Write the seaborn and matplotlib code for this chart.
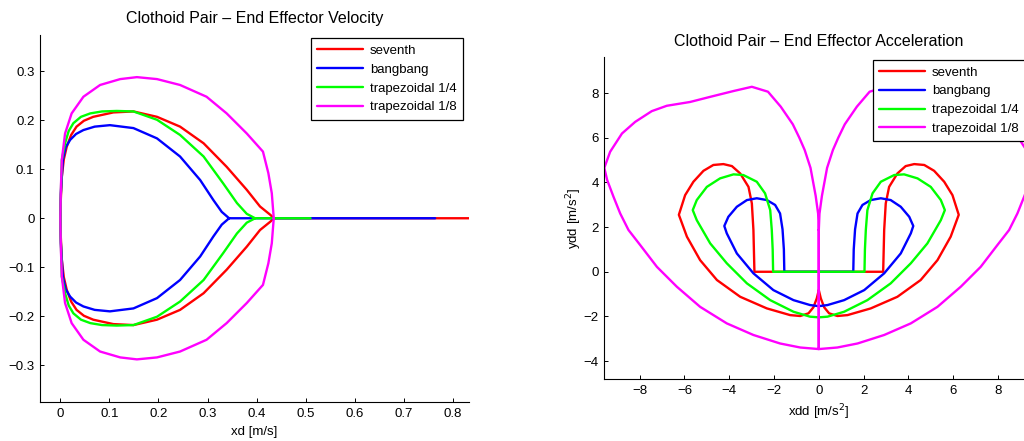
import numpy as np
import pandas as pd
import matplotlib
matplotlib.use("Agg")
import matplotlib.pyplot as plt
import seaborn as sns

# ---------------- data ----------------
series_names = ["seventh", "bangbang", "trapezoidal 1/4", "trapezoidal 1/8"]
series_colors = ["#ff0000", "#0000ff", "#00ff00", "#ff00ff"]

# velocity: upper half of each lobe, from origin to tip (lower half is the mirror image)
red_v_x = [0, 0.001, 0.003, 0.007, 0.013, 0.022, 0.033, 0.048, 0.067, 0.108, 0.149, 0.197, 0.244, 0.292, 0.339, 0.380, 0.407, 0.428, 0.435]
red_v_y = [0, 0.040, 0.085, 0.120, 0.146, 0.170, 0.187, 0.199, 0.207, 0.216, 0.218, 0.207, 0.187, 0.153, 0.105, 0.058, 0.024, 0.007, 0]
blue_v_x = [0, 0.001, 0.005, 0.011, 0.020, 0.032, 0.047, 0.070, 0.101, 0.149, 0.197, 0.244, 0.285, 0.312, 0.329, 0.344]
blue_v_y = [0, 0.050, 0.119, 0.145, 0.160, 0.172, 0.180, 0.187, 0.190, 0.184, 0.163, 0.126, 0.078, 0.037, 0.013, 0]
green_v_x = [0, 0.001, 0.003, 0.0096, 0.017, 0.0265, 0.042, 0.061, 0.085, 0.115, 0.149, 0.197, 0.244, 0.292, 0.332, 0.360, 0.380, 0.397]
green_v_y = [0, 0.050, 0.119, 0.153, 0.178, 0.194, 0.207, 0.214, 0.218, 0.219, 0.218, 0.201, 0.170, 0.126, 0.071, 0.031, 0.009, 0]
magenta_v_x = [0, 0.001, 0.003, 0.0096, 0.023, 0.047, 0.081, 0.122, 0.156, 0.197, 0.244, 0.298, 0.339, 0.380, 0.413, 0.424, 0.431, 0.435]
magenta_v_y = [0, 0.060, 0.119, 0.173, 0.214, 0.248, 0.272, 0.284, 0.288, 0.284, 0.272, 0.248, 0.214, 0.173, 0.136, 0.092, 0.051, 0]
# end of straight segment along yd = 0
v_line_end = [0.833, 0.764, 0.510, 0.435]

# acceleration: left half path of each curve (right half is the mirror image)
red_a_x = [0, -0.09, -0.24, -0.46, -0.83, -1.28, -2.32, -3.51, -4.55, -5.30, -5.89, -6.25, -5.97, -5.60,
           -5.15, -4.71, -4.26, -3.88, -3.51, -3.14, -2.99, -2.92, -2.875, 0]
red_a_y = [-0.82, -1.19, -1.59, -1.86, -1.98, -1.94, -1.64, -1.12, -0.37, 0.52, 1.57, 2.55, 3.43, 4.03,
           4.52, 4.78, 4.82, 4.73, 4.40, 3.80, 3.06, 1.87, 0, 0]
blue_a_x = [0, -0.39, -1.13, -2.03, -2.92, -3.66, -4.11, -4.22, -4.04, -3.66, -3.21, -2.77, -2.32, -1.95,
            -1.73, -1.62, -1.56, -1.54, 0]
blue_a_y = [-1.54, -1.49, -1.27, -0.82, -0.07, 0.82, 1.72, 2.05, 2.46, 2.91, 3.21, 3.29, 3.21, 2.99,
            2.61, 1.90, 1.00, 0, 0]
green_a_x = [0, -0.39, -1.13, -2.17, -3.21, -4.11, -4.85, -5.45, -5.63, -5.45, -5.00, -4.41, -3.81, -3.37,
             -2.77, -2.40, -2.17, -2.10, -2.06, -2.04, 0]
green_a_y = [-2.04, -2.01, -1.79, -1.27, -0.52, 0.38, 1.27, 2.31, 2.76, 3.21, 3.80, 4.18, 4.36, 4.33,
             4.03, 3.51, 2.76, 1.87, 1.00, 0, 0]
magenta_a_x = [0, 0, -0.83, -1.73, -2.92, -4.11, -5.30, -6.34, -7.23, -7.98, -8.50, -8.87, -9.17, -9.45,
               -9.58, -9.32, -8.79, -8.20, -7.46, -6.79, -5.75, -4.85, -3.81, -2.99, -2.27, -1.70, -1.16,
               -0.87, -0.63, -0.37, -0.14, -0.03, 0]
magenta_a_y = [1.87, -3.46, -3.39, -3.21, -2.83, -2.31, -1.57, -0.67, 0.22, 1.20, 1.87, 2.61, 3.36, 4.10,
               4.65, 5.37, 6.19, 6.71, 7.19, 7.43, 7.60, 7.83, 8.09, 8.28, 8.06, 7.39, 6.60,
               6.00, 5.45, 4.65, 3.40, 2.60, 1.87]

vel_tick_x = [0, 0.1, 0.2, 0.3, 0.4, 0.5, 0.6, 0.7, 0.8]
vel_tick_x_labels = ["0", "0.1", "0.2", "0.3", "0.4", "0.5", "0.6", "0.7", "0.8"]
vel_tick_y = [-0.3, -0.2, -0.1, 0, 0.1, 0.2, 0.3]
vel_tick_y_labels = ["\u22120.3", "\u22120.2", "\u22120.1", "0", "0.1", "0.2", "0.3"]
acc_tick_x = [-8, -6, -4, -2, 0, 2, 4, 6, 8]
acc_tick_x_labels = ["\u22128", "\u22126", "\u22124", "\u22122", "0", "2", "4", "6", "8"]
acc_tick_y = [-4, -2, 0, 2, 4, 6, 8]
acc_tick_y_labels = ["\u22124", "\u22122", "0", "2", "4", "6", "8"]

# ---------------- build tables ----------------
def vel_path(ux, uy, xend):
    ux = np.asarray(ux, float); uy = np.asarray(uy, float)
    x = np.concatenate([[xend], ux[::-1], ux[1:]])
    y = np.concatenate([[0.0], uy[::-1], -uy[1:]])
    return x, y

def acc_path(lx, ly):
    lx = np.asarray(lx, float); ly = np.asarray(ly, float)
    x = np.concatenate([lx, -lx[::-1]])
    y = np.concatenate([ly, ly[::-1]])
    return x, y

vel_sets = [(red_v_x, red_v_y), (blue_v_x, blue_v_y), (green_v_x, green_v_y), (magenta_v_x, magenta_v_y)]
acc_sets = [(red_a_x, red_a_y), (blue_a_x, blue_a_y), (green_a_x, green_a_y), (magenta_a_x, magenta_a_y)]

vel_frames, acc_frames = [], []
for name, (ux, uy), xe in zip(series_names, vel_sets, v_line_end):
    x, y = vel_path(ux, uy, xe)
    vel_frames.append(pd.DataFrame({"x": x, "y": y, "series": name}))
for name, (lx, ly) in zip(series_names, acc_sets):
    x, y = acc_path(lx, ly)
    acc_frames.append(pd.DataFrame({"x": x, "y": y, "series": name}))
vel_df = pd.concat(vel_frames, ignore_index=True)
acc_df = pd.concat(acc_frames, ignore_index=True)

# ---------------- style ----------------
sns.set_theme(style="white")
plt.rcParams["font.family"] = ["Liberation Sans", "DejaVu Sans"]
plt.rcParams["axes.unicode_minus"] = True
plt.rcParams["text.color"] = "black"
plt.rcParams["axes.labelcolor"] = "black"
plt.rcParams["axes.titlecolor"] = "black"
FS = 9.5
TFS = 11.5

fig = plt.figure(figsize=(10.24, 4.41), dpi=100)
ax1 = fig.add_axes([40 / 1024, 1 - 402 / 441, 429 / 1024, 367 / 441])
ax2 = fig.add_axes([604.3 / 1024, 1 - 379 / 441, 429 / 1024, 321.7 / 441])

palette = dict(zip(series_names, series_colors))
for ax, df in ((ax1, vel_df), (ax2, acc_df)):
    sns.lineplot(data=df, x="x", y="y", hue="series", hue_order=series_names, palette=palette,
                 sort=False, estimator=None, linewidth=1.7, legend=False, ax=ax)
    for sp in ("top", "right"):
        ax.spines[sp].set_visible(False)
    for sp in ("left", "bottom"):
        ax.spines[sp].set_color("black")
        ax.spines[sp].set_linewidth(0.8)
    ax.tick_params(direction="in", length=3, width=0.7, colors="black", labelsize=FS,
                   left=True, bottom=True, pad=4)
    ax.set_facecolor("white")

ax1.set_xlim(-0.0415, 0.833)
ax1.set_ylim(-0.375, 0.374)
ax1.set_xticks(vel_tick_x)
ax1.set_xticklabels(vel_tick_x_labels)
ax1.set_yticks(vel_tick_y)
ax1.set_yticklabels(vel_tick_y_labels)
ax1.set_xlabel("xd [m/s]", fontsize=FS, labelpad=4.5, color="black")
ax1.set_ylabel("")
ax1.set_title("Clothoid Pair \u2013 End Effector Velocity", fontsize=TFS, pad=8.8, color="black")

ax2.set_xlim(-9.58, 9.58)
ax2.set_ylim(-4.8, 9.6)
ax2.set_xticks(acc_tick_x)
ax2.set_xticklabels(acc_tick_x_labels)
ax2.set_yticks(acc_tick_y)
ax2.set_yticklabels(acc_tick_y_labels)
ax2.set_xlabel("xdd [m/s$^2$]", fontsize=FS, labelpad=4.5, color="black")
ax2.set_ylabel("ydd [m/s$^2$]", fontsize=FS, labelpad=0, color="black")
ax2.set_title("Clothoid Pair \u2013 End Effector Acceleration", fontsize=TFS, pad=7.8, color="black")

for ax, anchor, loc in ((ax1, (462.7 / 1024, 1 - 38.3 / 441), "upper right"),
                        (ax2, (872.7 / 1024, 1 - 60 / 441), "upper left")):
    handles = ax.get_lines()[:4]
    leg = ax.legend(handles, series_names, loc=loc, bbox_to_anchor=anchor,
                    bbox_transform=fig.transFigure, fontsize=FS, frameon=True, fancybox=False,
                    handlelength=3.5, handletextpad=0.5, labelspacing=0.5, borderpad=0.48,
                    borderaxespad=0)
    leg.get_frame().set_edgecolor("black")
    leg.get_frame().set_linewidth(0.9)
    leg.get_frame().set_alpha(1)
    for t in leg.get_texts():
        t.set_color("black")

fig.savefig("out.png", dpi=100, facecolor="white")
